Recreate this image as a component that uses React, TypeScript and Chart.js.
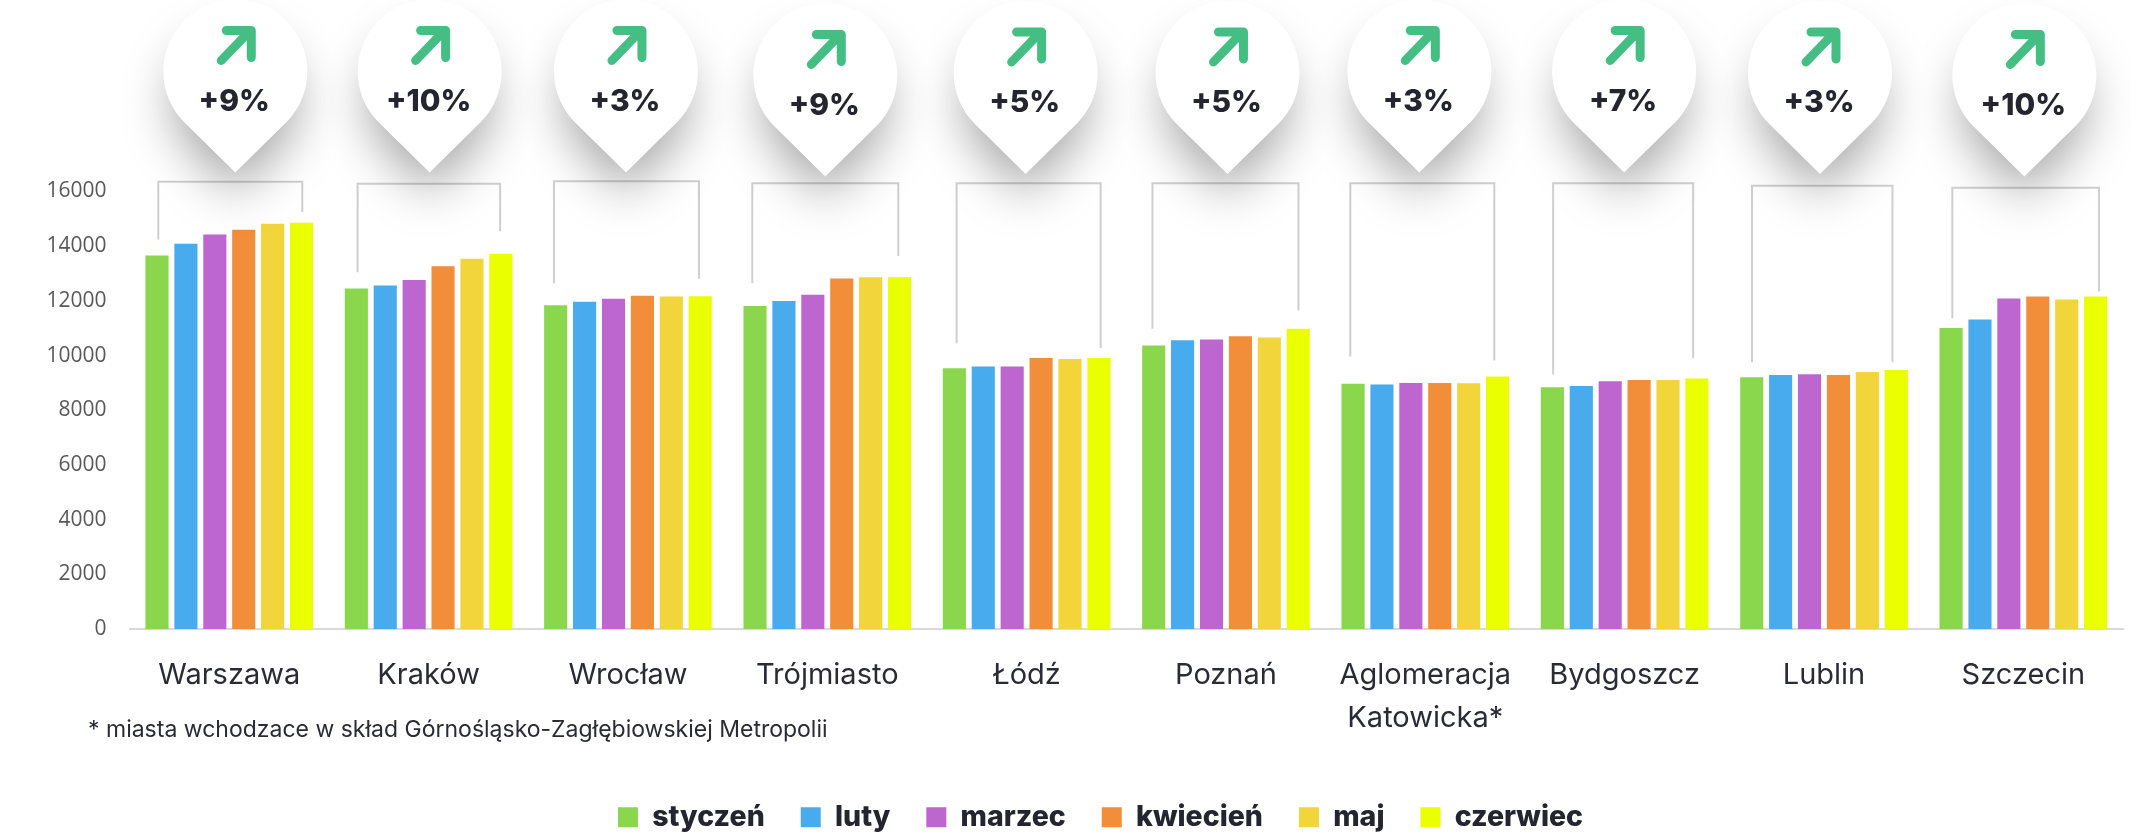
import React, { useEffect, useRef } from "react";
import { Chart, registerables } from "chart.js";

Chart.register(...registerables);

const categories: (string | string[])[] = [
  "Warszawa", "Kraków", "Wrocław", "Trójmiasto", "Łódź", "Poznań",
  ["Aglomeracja", "Katowicka*"], "Bydgoszcz", "Lublin", "Szczecin",
];
const styczen = [13660, 12450, 11840, 11810, 9540, 10370, 8970, 8840, 9210, 11010];
const luty = [14090, 12560, 11970, 12000, 9600, 10560, 8940, 8890, 9290, 11320];
const marzec = [14430, 12760, 12080, 12220, 9600, 10590, 9000, 9060, 9320, 12090];
const kwiecien = [14600, 13270, 12190, 12820, 9915, 10710, 9000, 9110, 9290, 12160];
const maj = [14820, 13540, 12160, 12860, 9870, 10660, 8990, 9110, 9400, 12050];
const czerwiec = [14860, 13720, 12170, 12860, 9915, 10980, 9230, 9160, 9475, 12160];
const changes = ["+9%", "+10%", "+3%", "+9%", "+5%", "+5%", "+3%", "+7%", "+3%", "+10%"];
const footnote = "* miasta wchodzace w skład Górnośląsko-Zagłębiowskiej Metropolii";

const seriesNames = ["styczeń", "luty", "marzec", "kwiecień", "maj", "czerwiec"];
const seriesValues = [styczen, luty, marzec, kwiecien, maj, czerwiec];
const seriesColors = ["#8AD74E", "#48ABEE", "#BD66D0", "#F28D3A", "#F1D53A", "#EAFF00"];

// decoration layout (pixels, relative to each category's centre)
const pinDx = [6, 1, -2, -2, -1, 1.5, -6, -0.5, -4, 1];
const pinTipY = [172.5, 172.5, 172.5, 176.5, 174, 174, 172.5, 172.5, 174, 176.5];
const bracketLeftDx = [-71, -71, -74, -75, -70, -73.5, -75, -71.5, -72, -71];
const bracketRightDx = [73, 71.5, 71, 71, 74, 72.5, 69, 68.5, 68.5, 75.7];
const bracketTop = [181.7, 183.7, 181.3, 183.3, 183.3, 183.3, 183.3, 183.3, 185.7, 187.7];
const bracketLeftGap = [16, 16.3, 22, 23, 25, 16.7, 27.3, 12.7, 15, 9.6];
const bracketRightGap = [10.6, 22.6, 17.4, 21.3, 10, 18.3, 16, 20.3, 7.6, 5];

const INK = "#25252F";

function pinPath(ctx: any, x: number, tip: number, r: number, d: number) {
  const phi = Math.acos(r / d);
  ctx.beginPath();
  ctx.moveTo(x, tip);
  ctx.arc(x, tip - d, r, Math.PI / 2 + phi, Math.PI * 2.5 - phi);
  ctx.closePath();
}

const decorations = {
  id: "decorations",
  afterLayout(chart: any) {
    // place the legend row under the plot, centred on the bars' span
    const legend = chart.legend;
    legend.left = 70;
    legend.right = 2131;
    legend.top = 767;
    legend.bottom = 867;
  },
  afterDatasetsDraw(chart: any) {
    const { ctx, scales } = chart;
    const xs = scales.x;
    const ys = scales.y;
    ctx.save();
    // brackets
    ctx.strokeStyle = "#CFCFCF";
    ctx.lineWidth = 2;
    categories.forEach((_, i) => {
      const c = xs.getPixelForValue(i);
      const xl = c + bracketLeftDx[i];
      const xr = c + bracketRightDx[i];
      const t = bracketTop[i];
      ctx.beginPath();
      ctx.moveTo(xl, ys.getPixelForValue(styczen[i]) - bracketLeftGap[i]);
      ctx.lineTo(xl, t);
      ctx.lineTo(xr, t);
      ctx.lineTo(xr, ys.getPixelForValue(czerwiec[i]) - bracketRightGap[i]);
      ctx.stroke();
    });
    // pins
    categories.forEach((_, i) => {
      const x = xs.getPixelForValue(i) + pinDx[i];
      const tip = pinTipY[i];
      ctx.save();
      ctx.shadowColor = "rgba(0,0,0,0.36)";
      ctx.shadowBlur = 50;
      ctx.shadowOffsetY = 24;
      ctx.fillStyle = "#FFFFFF";
      pinPath(ctx, x, tip - 3, 62, 92);
      ctx.fill();
      ctx.restore();
      ctx.fillStyle = "#FFFFFF";
      pinPath(ctx, x, tip, 72, 101);
      ctx.fill();
      // arrow
      ctx.strokeStyle = "#45BE84";
      ctx.lineWidth = 9;
      ctx.lineCap = "round";
      ctx.lineJoin = "round";
      ctx.beginPath();
      ctx.moveTo(x - 9, tip - 142);
      ctx.lineTo(x + 16, tip - 142);
      ctx.lineTo(x + 16, tip - 115);
      ctx.moveTo(x - 14, tip - 112);
      ctx.lineTo(x + 13, tip - 140);
      ctx.stroke();
      // label
      ctx.fillStyle = INK;
      ctx.font = "800 30px Inter";
      ctx.textAlign = "center";
      ctx.textBaseline = "middle";
      ctx.fillText(changes[i], x - 1, tip - 71);
    });
    // footnote
    ctx.fillStyle = "#2B2B36";
    ctx.font = "400 23px Inter";
    ctx.textAlign = "left";
    ctx.textBaseline = "middle";
    ctx.fillText(footnote, 88, 730);
    ctx.restore();
  },
};

export default function App() {
  const ref = useRef<HTMLCanvasElement>(null);
  useEffect(() => {
    const chart = new Chart(ref.current as HTMLCanvasElement, {
      type: "bar",
      data: {
        labels: categories as any,
        datasets: seriesNames.map((name, i) => ({
          label: name,
          data: seriesValues[i],
          backgroundColor: seriesColors[i],
          categoryPercentage: 0.87,
          barPercentage: 0.8,
        })),
      },
      options: {
        responsive: false,
        animation: false,
        layout: { padding: { top: 191.5, left: 0, right: 8, bottom: 0 } },
        scales: {
          x: {
            grid: { display: false, drawTicks: false },
            border: { display: true, color: "#D9D9D9", width: 2 },
            afterFit(scale: any) {
              scale.height = 132.5;
            },
            ticks: {
              autoSkip: false,
              maxRotation: 0,
              minRotation: 0,
              padding: 25,
              color: "#2B2B36",
              font: { family: "Inter", size: 29, lineHeight: 1.48 },
            },
          },
          y: {
            min: 0,
            max: 16000,
            grid: { display: false, drawTicks: false },
            border: { display: false },
            afterFit(scale: any) {
              scale.width = 129.6;
            },
            ticks: {
              stepSize: 2000,
              padding: 23,
              color: "#595959",
              font: { family: "Open Sans", size: 21 },
              callback: (v: any) => String(v),
            },
          },
        },
        plugins: {
          tooltip: { enabled: false },
          legend: {
            position: "bottom",
            labels: {
              boxWidth: 20,
              boxHeight: 20,
              padding: 36,
              color: INK,
              font: { family: "Inter", size: 28.5, weight: "800" },
            },
          },
        },
      } as any,
      plugins: [decorations],
    });
    return () => chart.destroy();
  }, []);
  return (
    <div style={{ position: "absolute", left: 0, top: 0, width: 2131, height: 836, background: "#fff" }}>
      <canvas ref={ref} width={2131} height={836} style={{ display: "block" }} />
    </div>
  );
}
